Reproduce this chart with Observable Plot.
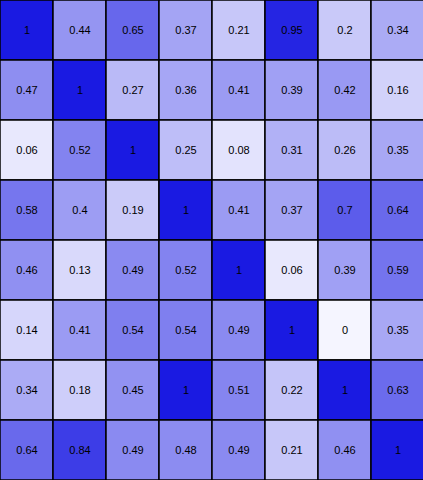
<!DOCTYPE html>
<html>
<head>
<meta charset="utf-8">
<script src="https://cdn.jsdelivr.net/npm/d3@7"></script>
<script src="https://cdn.jsdelivr.net/npm/@observablehq/plot@0.6"></script>
<style>
  html, body { margin: 0; padding: 0; background: #fff; }
  #chart svg { display: block; }
</style>
</head>
<body>
<div id="chart"></div>
<script>
const columns = ["c1", "c2", "c3", "c4", "c5", "c6", "c7", "c8"];
const rows = ["r1", "r2", "r3", "r4", "r5", "r6", "r7", "r8"];
const row1 = [1, 0.44, 0.65, 0.37, 0.21, 0.95, 0.2, 0.34];
const row2 = [0.47, 1, 0.27, 0.36, 0.41, 0.39, 0.42, 0.16];
const row3 = [0.06, 0.52, 1, 0.25, 0.08, 0.31, 0.26, 0.35];
const row4 = [0.58, 0.4, 0.19, 1, 0.41, 0.37, 0.7, 0.64];
const row5 = [0.46, 0.13, 0.49, 0.52, 1, 0.06, 0.39, 0.59];
const row6 = [0.14, 0.41, 0.54, 0.54, 0.49, 1, 0, 0.35];
const row7 = [0.34, 0.18, 0.45, 1, 0.51, 0.22, 1, 0.63];
const row8 = [0.64, 0.84, 0.49, 0.48, 0.49, 0.21, 0.46, 1];
const matrix = [row1, row2, row3, row4, row5, row6, row7, row8];

const data = [];
matrix.forEach((vals, i) => vals.forEach((v, j) => data.push({row: rows[i], col: columns[j], value: v})));

const chart = Plot.plot({
  width: 423,
  height: 480,
  marginTop: -1,
  marginLeft: -1,
  marginRight: -1,
  marginBottom: 0,
  style: {fontFamily: "'Liberation Sans', Arial, sans-serif", fontSize: "11px", background: "#fff", overflow: "hidden"},
  x: {domain: columns, padding: 0, axis: null},
  y: {domain: rows, padding: 0, axis: null},
  color: {type: "linear", domain: [0, 1], range: ["#f5f5ff", "#1a1ae2"], interpolate: "rgb"},
  marks: [
    Plot.cell(data, {x: "col", y: "row", fill: "value", stroke: "#000", strokeWidth: 1.5, inset: 0}),
    Plot.text(data, {x: "col", y: "row", text: d => String(d.value), fill: "#000", fontSize: 11})
  ]
});
document.getElementById("chart").appendChild(chart);
</script>
</body>
</html>
